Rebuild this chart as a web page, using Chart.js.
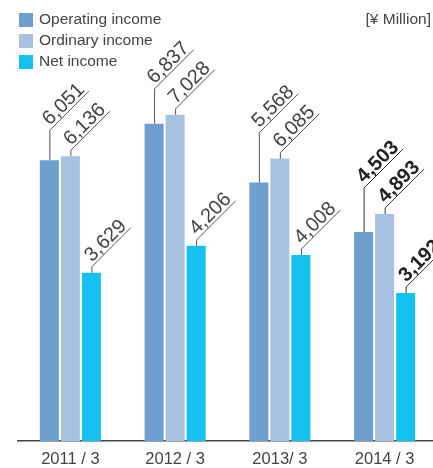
<!DOCTYPE html>
<html>
<head>
<meta charset="utf-8">
<script src="https://cdn.jsdelivr.net/npm/chart.js@4"></script>
<style>
  html, body { margin: 0; padding: 0; background: #fff; overflow: hidden; }
  #wrap { width: 437px; height: 468px; }
</style>
</head>
<body>
<div id="wrap"><canvas id="incomeChart" width="437" height="468"></canvas></div>
<script>
// fiscal years and results in ¥ million
const years = ['2011 / 3', '2012 / 3', '2013/ 3', '2014 / 3'];
const operatingIncome = [6051, 6837, 5568, 4503];
const ordinaryIncome = [6136, 7028, 6085, 4893];
const netIncome = [3629, 4206, 4008, 3192];

const seriesNames = ['Operating income', 'Ordinary income', 'Net income'];
const seriesColors = ['#6e9fcf', '#a8c1e0', '#15c1f0'];

const FONT = '"Liberation Sans", Arial, sans-serif';

// legend in the top-left corner plus the unit note on the right
const legendBox = {
    id: 'legendBox',
    afterDraw(chart) {
        const ctx = chart.ctx;
        ctx.save();
        ctx.font = '15.5px ' + FONT;
        ctx.textBaseline = 'middle';
        seriesNames.forEach((name, i) => {
            const y = 20 + i * 21;
            ctx.fillStyle = seriesColors[i];
            ctx.fillRect(19, y - 7, 14, 14);
            ctx.fillStyle = '#444';
            ctx.textAlign = 'left';
            ctx.fillText(name, 39, y);
        });
        ctx.textAlign = 'right';
        ctx.fillText('[¥ Million]', 431, 20);
        ctx.restore();
    }
};

// slanted value labels with leader lines above each bar
const valueLeaders = {
    id: 'valueLeaders',
    afterDatasetsDraw(chart) {
        const ctx = chart.ctx;
        const metas = [0, 1, 2].map(i => chart.getDatasetMeta(i));
        ctx.save();
        metas.forEach((meta, di) => {
            meta.data.forEach((bar, idx) => {
                const value = chart.data.datasets[di].data[idx];
                let elbow;
                if (di === 0) {
                    const ordTop = metas[1].data[idx].y;
                    elbow = Math.min(bar.y, ordTop) - 26;
                } else {
                    elbow = bar.y - 6;
                }
                const last = idx === years.length - 1;
                ctx.strokeStyle = last ? '#333' : '#555';
                ctx.lineWidth = 1;
                ctx.beginPath();
                ctx.moveTo(bar.x + 0.5, bar.y);
                ctx.lineTo(bar.x + 0.5, elbow);
                ctx.lineTo(bar.x + 0.5 + 39, elbow - 39);
                ctx.stroke();

                ctx.save();
                ctx.translate(bar.x + 0.5, elbow);
                ctx.rotate(-Math.PI / 4);
                ctx.font = (last ? 'bold ' : '') + '20px ' + FONT;
                ctx.fillStyle = last ? '#222' : '#444';
                ctx.textAlign = 'left';
                ctx.textBaseline = 'alphabetic';
                ctx.fillText(value.toLocaleString('en-US'), 3, -3);
                ctx.restore();
            });
        });
        ctx.restore();
    }
};

new Chart(document.getElementById('incomeChart'), {
    type: 'bar',
    data: {
        labels: years,
        datasets: [
            { label: seriesNames[0], data: operatingIncome, backgroundColor: seriesColors[0] },
            { label: seriesNames[1], data: ordinaryIncome, backgroundColor: seriesColors[1] },
            { label: seriesNames[2], data: netIncome, backgroundColor: seriesColors[2] }
        ]
    },
    options: {
        responsive: false,
        animation: false,
        events: [],
        categoryPercentage: 0.602,
        barPercentage: 0.905,
        layout: { padding: { left: 18, right: 0, top: 0, bottom: -9 } },
        plugins: {
            legend: { display: false },
            tooltip: { enabled: false }
        },
        scales: {
            x: {
                grid: { display: false, drawTicks: false, tickLength: 0 },
                border: { display: true, color: '#444', width: 1.5 },
                ticks: { color: '#444', padding: 8, font: { size: 16.5, family: FONT } }
            },
            y: {
                display: false,
                min: 0,
                max: 9500
            }
        }
    },
    plugins: [legendBox, valueLeaders]
});
</script>
</body>
</html>
